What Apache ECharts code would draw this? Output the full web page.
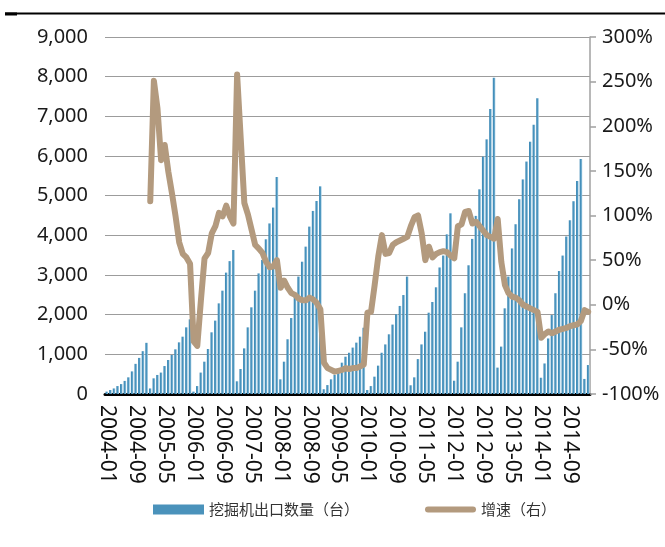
<!DOCTYPE html>
<html>
<head>
<meta charset="utf-8">
<title>挖掘机出口数量</title>
<script src="https://cdn.jsdelivr.net/npm/echarts@6/dist/echarts.min.js"></script>
<style>
  html, body { margin: 0; padding: 0; background: #fff; }
  #chart { width: 665px; height: 547px; }
</style>
</head>
<body>
<div id="chart"></div>
<script>
// 年份，每年12个月，最后一年只到2月
var years = [2004, 2005, 2006, 2007, 2008, 2009, 2010, 2011, 2012, 2013, 2014, 2015];

// 挖掘机出口数量（台），年内累计
var exp2004 = [60, 100, 140, 200, 250, 330, 420, 570, 760, 910, 1080, 1290];
var exp2005 = [140, 395, 480, 540, 705, 857, 983, 1126, 1302, 1445, 1680, 1882];
var exp2006 = [60, 200, 540, 815, 1135, 1555, 1850, 2285, 2605, 3060, 3350, 3630];
var exp2007 = [320, 630, 1150, 1680, 2185, 2605, 3040, 3380, 3900, 4300, 4700, 5470];
var exp2008 = [370, 815, 1380, 1915, 2480, 2960, 3335, 3715, 4220, 4615, 4865, 5235];
var exp2009 = [120, 225, 370, 480, 605, 790, 940, 1040, 1170, 1295, 1445, 1670];
var exp2010 = [100, 200, 437, 715, 1040, 1250, 1505, 1750, 2010, 2220, 2495, 2960];
var exp2011 = [220, 420, 880, 1250, 1570, 2050, 2320, 2690, 3190, 3490, 4025, 4555];
var exp2012 = [335, 815, 1680, 2540, 3245, 3910, 4490, 5160, 5985, 6420, 7185, 7975];
var exp2013 = [665, 1195, 2160, 2960, 3670, 4280, 4910, 5410, 5860, 6360, 6790, 7455];
var exp2014 = [410, 770, 1400, 1990, 2540, 3100, 3490, 3970, 4380, 4860, 5370, 5925];
var exp2015 = [380, 730];

// 增速（右），单位 %
var gr2004 = [null, null, null, null, null, null, null, null, null, null, null, null];
var gr2005 = [116, 251, 220, 162, 179, 149, 125, 99, 70, 57, 53, 46];
var gr2006 = [-41, -46, 5, 52, 58, 80, 88, 103, 99, 111, 99, 91];
var gr2007 = [258, 186, 114, 101, 84, 67, 63, 58, 48, 42, 43, 50];
var gr2008 = [19, 27, 19, 13, 11, 7, 5, 5, 8, 6, 2, -5];
var gr2009 = [-65, -71, -73, -75, -74, -73, -71, -72, -71, -71, -69, -67];
var gr2010 = [-9, -8, 22, 54, 78, 57, 58, 67, 70, 72, 74, 76];
var gr2011 = [88, 98, 100, 80, 50, 65, 53, 57, 59, 60, 59, 55];
var gr2012 = [52, 88, 90, 104, 105, 91, 93, 88, 83, 78, 76, 74];
var gr2013 = [96, 48, 22, 13, 9, 8, 5, 0, -2, -4, -6, -8];
var gr2014 = [-37, -33, -30, -32, -30, -28, -27, -26, -24, -23, -22, -18];
var gr2015 = [-6, -8];

var exportData = [].concat(exp2004, exp2005, exp2006, exp2007, exp2008, exp2009,
  exp2010, exp2011, exp2012, exp2013, exp2014, exp2015);
var growthData = [].concat(gr2004, gr2005, gr2006, gr2007, gr2008, gr2009,
  gr2010, gr2011, gr2012, gr2013, gr2014, gr2015);

// 类目：2004-01 ... 2015-02
var categories = [];
years.forEach(function (y) {
  for (var m = 1; m <= 12; m++) {
    if (categories.length >= exportData.length) break;
    categories.push(y + '-' + (m < 10 ? '0' + m : m));
  }
});

var barBlue = '#4a92bb';
var lineTan = '#b39a7e';
var font = '"Noto Sans", "Noto Sans CJK SC", sans-serif';

var myChart = echarts.init(document.getElementById('chart'));

var option = {
  backgroundColor: '#fff',
  animation: false,
  textStyle: { fontFamily: font },
  grid: {
    left: 105,
    right: 75,
    top: 37,
    bottom: 153
  },
  legend: {
    left: 148,
    top: 497,
    itemWidth: 51,
    itemHeight: 10,
    itemGap: 66,
    textStyle: { fontSize: 15, color: '#333', fontFamily: '"Noto Sans CJK SC", sans-serif' },
    data: [
      { name: '挖掘机出口数量（台）', icon: 'rect', itemStyle: { color: barBlue } },
      // 图例里的增速线：粗的圆头线段
      { name: '增速（右）', icon: 'path://M3,0 H48 A3,3 0 0 1 48,6 H3 A3,3 0 0 1 3,0 Z', itemStyle: { color: lineTan } }
    ]
  },
  // 顶部黑线
  graphic: [
    { type: 'line', shape: { x1: 5, y1: 13.5, x2: 665, y2: 13.5 }, style: { stroke: '#000', lineWidth: 2 } },
    { type: 'line', shape: { x1: 5, y1: 14, x2: 17, y2: 14 }, style: { stroke: '#000', lineWidth: 3 } }
  ],
  xAxis: {
    type: 'category',
    data: categories,
    boundaryGap: true,
    axisLine: { lineStyle: { color: '#000', width: 3 } },
    axisTick: { show: false },
    axisLabel: {
      interval: 7,
      rotate: -90,
      margin: 11,
      fontSize: 21,
      color: '#111'
    }
  },
  yAxis: [{
    type: 'value',
    min: 0,
    max: 9000,
    interval: 1000,
    axisLine: { show: false },
    axisTick: { show: false },
    splitLine: { lineStyle: { color: '#9c9c9c', width: 1 } },
    axisLabel: {
      margin: 17,
      fontSize: 20,
      color: '#1a1a1a',
      formatter: function (v) { return v.toLocaleString('en-US'); }
    }
  }, {
    type: 'value',
    min: -100,
    max: 300,
    interval: 50,
    position: 'right',
    axisLine: { show: true, lineStyle: { color: '#a0a0a0', width: 1.5 } },
    axisTick: { show: true, inside: false, length: 6, lineStyle: { color: '#a0a0a0', width: 1.5 } },
    splitLine: { show: false },
    axisLabel: {
      margin: 12,
      fontSize: 20,
      color: '#1a1a1a',
      formatter: '{value}%'
    }
  }],
  series: [{
    name: '挖掘机出口数量（台）',
    type: 'bar',
    data: exportData,
    barCategoryGap: '28%',
    itemStyle: {
      color: new echarts.graphic.LinearGradient(0, 0, 1, 0, [
        { offset: 0, color: '#3a86b4' },
        { offset: 0.55, color: '#4d97c0' },
        { offset: 1, color: '#b8d8ea' }
      ])
    }
  }, {
    name: '增速（右）',
    type: 'line',
    yAxisIndex: 1,
    data: growthData,
    symbol: 'none',
    connectNulls: false,
    z: 5,
    itemStyle: { color: lineTan },
    lineStyle: { color: lineTan, width: 6, cap: 'round', join: 'round' }
  }]
};

myChart.setOption(option);
</script>
</body>
</html>
